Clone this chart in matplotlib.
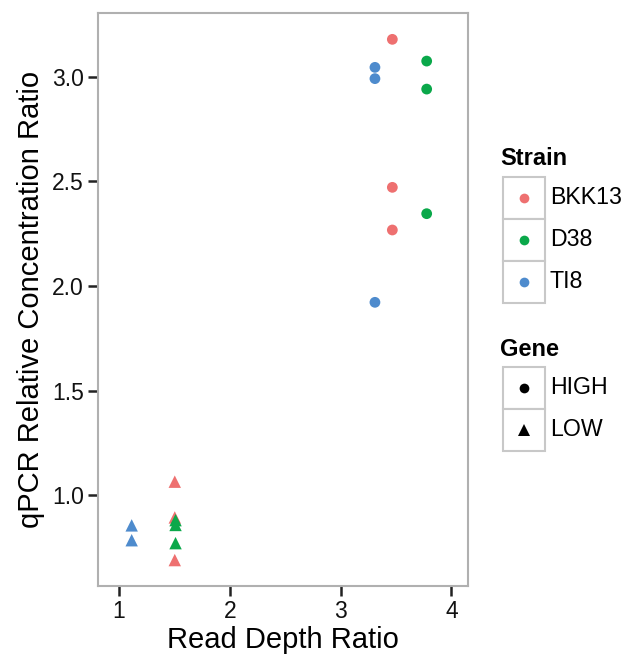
import matplotlib
matplotlib.use("Agg")
import matplotlib.pyplot as plt
from matplotlib.patches import Rectangle
from matplotlib.lines import Line2D

plt.rcParams['font.family'] = ['Liberation Sans', 'DejaVu Sans']

strains = ['BKK13', 'D38', 'TI8']
genes = ['HIGH', 'LOW']
colors = {'BKK13': '#EE7070', 'D38': '#0AA84A', 'TI8': '#4E8BCD'}
markers = {'HIGH': 'o', 'LOW': '^'}

point_strain = ['TI8', 'TI8', 'TI8', 'BKK13', 'BKK13', 'BKK13', 'D38', 'D38', 'D38',
                'TI8', 'TI8', 'BKK13', 'BKK13', 'BKK13', 'D38', 'D38', 'D38']
point_gene = ['HIGH'] * 9 + ['LOW'] * 8
read_depth = [3.31, 3.31, 3.31, 3.467, 3.467, 3.467, 3.777, 3.777, 3.777,
              1.114, 1.114, 1.503, 1.503, 1.503, 1.51, 1.51, 1.51]
qpcr = [3.046, 2.992, 1.922, 3.18, 2.472, 2.268, 3.076, 2.942, 2.346,
        0.855, 0.784, 1.064, 0.893, 0.689, 0.880, 0.857, 0.770]

W, H = 635, 657
fig = plt.figure(figsize=(W / 100, H / 100), dpi=100)
ax = fig.add_axes([98 / W, 1 - 586 / H, 370 / W, 573 / H])

for s, g, x, y in zip(point_strain, point_gene, read_depth, qpcr):
    ax.scatter(x, y, color=colors[s], marker=markers[g],
               s=60 if g == 'HIGH' else 80, edgecolors='none', zorder=3)

ax.set_xlim(0.81, 4.15)
ax.set_ylim(0.565, 3.306)
ax.set_xticks([1, 2, 3, 4])
ax.set_yticks([1.0, 1.5, 2.0, 2.5, 3.0])
ax.set_yticklabels(['1.0', '1.5', '2.0', '2.5', '3.0'])
ax.tick_params(labelsize=16.5, length=7, width=1.8, color='#222222', labelcolor='#111111', pad=3)
for sp in ax.spines.values():
    sp.set_color('#B0B0B0')
    sp.set_linewidth(1.5)
ax.set_xlabel('Read Depth Ratio', fontsize=21, labelpad=2)
ax.set_ylabel('qPCR Relative Concentration Ratio', fontsize=21, labelpad=5)


def fx(px):
    return px / W


def fy(py):
    return 1 - py / H


def legend_block(title, y_title, y_top, labels, handles):
    fig.text(fx(500), fy(y_title), title, fontsize=17, fontweight='bold', va='center', ha='left')
    row = 42
    for i, (lab, (mk, col, ms)) in enumerate(zip(labels, handles)):
        top = y_top + i * row
        fig.patches.append(Rectangle((fx(503), fy(top + row)), 42 / W, row / H,
                                     transform=fig.transFigure, facecolor='white',
                                     edgecolor='#C8C8C8', linewidth=1.5))
        fig.lines.append(Line2D([fx(524)], [fy(top + row / 2)], marker=mk, color=col,
                                markersize=ms, linestyle='none', markeredgewidth=0,
                                transform=fig.transFigure))
        fig.text(fx(550), fy(top + row / 2), lab, fontsize=16.7, va='center', ha='left')


legend_block('Strain', 159, 177, strains, [('o', colors[s], 7) for s in strains])
legend_block('Gene', 350, 367, genes, [('o', 'black', 7), ('^', 'black', 8)])

fig.savefig('out.png', dpi=100)
